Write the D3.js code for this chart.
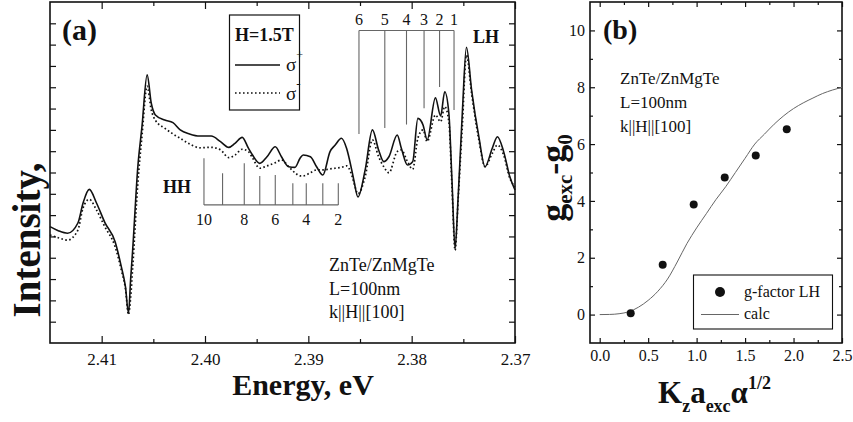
<!DOCTYPE html>
<html><head><meta charset="utf-8">
<script src="https://cdn.jsdelivr.net/npm/d3@7"></script>
<style>
body{margin:0;background:#fff}
svg{display:block}
text{font-family:"Liberation Serif","Times New Roman",serif;fill:#111}
</style>
</head><body>
<svg id="c" width="853" height="422"></svg>
<script>
// ---------- Panel (a) data ----------
const energy = [2.4150,2.4142,2.4133,2.4123,2.4118,2.4112,2.4105,2.4097,2.4087,2.4081,
2.4077,2.4074,2.4072,2.4070,2.4065,2.4061,2.4056,2.4052,2.4048,2.4039,
2.4031,2.4024,2.4015,2.4005,2.3994,2.3985,2.3977,2.3971,2.3964,2.3958,
2.3954,2.3947,2.3940,2.3932,2.3926,2.3919,2.3913,2.3908,2.3905,2.3898,
2.3892,2.3886,2.3879,2.3874,2.3868,2.3863,2.3858,2.3856,2.3852,2.3845,
2.3838,2.3832,2.3827,2.3822,2.3814,2.3810,2.3804,2.3799,2.3794,2.3789,
2.3785,2.3777,2.3772,2.3768,2.3764,2.3761,2.3758,2.3755,2.3751,2.3747,
2.3742,2.3735,2.3729,2.3722,2.3717,2.3711,2.3705,2.3700];
const sigmaPlus = [5.46,5.27,5.15,5.63,6.57,7.21,6.57,5.66,4.75,3.58,
2.64,1.39,2.96,4.36,8.27,10.15,12.58,11.25,10.70,10.46,
10.34,10.00,9.81,9.71,9.71,9.45,9.18,9.37,9.65,9.14,
8.82,8.43,8.74,9.21,8.74,8.27,8.24,8.67,8.82,8.74,
8.27,7.88,8.98,9.29,9.61,9.14,8.12,7.65,6.85,8.12,
10.00,9.06,8.51,8.74,9.76,9.14,8.35,8.51,10.54,10.23,
9.53,11.50,10.65,11.79,10.78,7.65,4.44,6.87,10.78,13.88,
11.87,9.68,8.27,9.14,9.68,8.98,7.80,7.18];
const sigmaMinus = [5.07,4.94,4.83,5.30,6.34,6.74,6.24,5.46,4.52,3.43,
2.55,1.33,2.11,3.52,7.50,9.70,12.05,10.93,10.45,10.08,
9.81,9.61,9.34,9.16,9.18,9.06,8.70,8.82,9.09,8.98,
8.68,8.20,8.31,8.46,8.59,8.27,7.99,7.84,7.84,7.99,
8.12,8.12,8.17,8.20,8.24,8.31,7.88,7.55,7.00,7.80,
9.53,8.74,8.27,7.99,8.98,9.06,8.51,8.15,9.61,10.00,
9.45,10.70,10.38,11.09,10.38,7.33,4.35,6.75,10.15,13.51,
11.72,9.53,8.27,8.90,9.29,8.82,7.73,7.33];
const energyTicks = [2.41,2.40,2.39,2.38,2.37];
const energyMinor = [2.405,2.395,2.385,2.375];
const intensityTicks = [1,2,3,4,5,6,7,8,9,10,11,12,13,14,15];

// LH exciton comb (numbers 6..1)
const lhLabels = ["6","5","4","3","2","1"];
const lhEnergy = [2.3851,2.3826,2.3805,2.3788,2.3773,2.3759];
const lhLineEnd = [9.81,10.09,10.25,11.01,12.01,10.93];
const lhTop = 14.66;
// HH exciton comb (numbers 10..2)
const hhNumbers = [10,9,8,7,6,5,4,3,2];
const hhEnergy = [2.4001,2.3983,2.3962,2.3947,2.3932,2.3915,2.3902,2.3886,2.3871];
const hhLineEnd = [8.67,7.96,8.43,7.84,7.88,7.49,7.49,7.49,7.49];
const hhBase = 6.48;
const hhShown = [10,8,6,4,2];

// ---------- Panel (b) data ----------
const kValues = [0.32,0.65,0.97,1.29,1.61,1.93];
const gFactorLH = [0.05,1.75,3.87,4.82,5.60,6.52];
const calcK = [0,0.1,0.2,0.3,0.4,0.5,0.6,0.7,0.8,0.9,1.0,1.1,1.2,1.3,1.4,1.5,1.6,1.7,1.8,1.9,2.0,2.1,2.2,2.3,2.4,2.5];
const calcG = [0,0.005,0.03,0.10,0.26,0.50,0.82,1.25,1.85,2.50,3.05,3.55,4.05,4.50,5.00,5.50,6.00,6.35,6.70,7.00,7.25,7.45,7.62,7.78,7.90,8.00];
const kTicks = [0,0.5,1.0,1.5,2.0,2.5];
const kMinor = [0.25,0.75,1.25,1.75,2.25];
const gTicks = [0,2,4,6,8,10];
const gMinor = [1,3,5,7,9];

const svg = d3.select("#c");

// ================= Panel (a) =================
const A = {l:50, r:515, t:2, b:343};
const xa = d3.scaleLinear().domain([2.415,2.370]).range([A.l,A.r]);
const ya = d3.scaleLinear().domain([0,16]).range([A.b,A.t]);

function styleAxis(g){ g.select(".domain").remove(); g.attr("font-family",null); g.selectAll(".tick line").attr("stroke","#111").attr("stroke-width",1.2); }

svg.append("g").attr("transform",`translate(0,${A.b})`)
  .call(d3.axisBottom(xa).tickValues(energyTicks).tickSize(-7).tickPadding(10).tickFormat(d3.format(".2f")))
  .call(styleAxis).call(g=>g.selectAll("text").attr("font-size",17).attr("fill","#111"));
svg.append("g").attr("transform",`translate(0,${A.b})`)
  .call(d3.axisBottom(xa).tickValues(energyMinor).tickSize(-4).tickFormat("")).call(styleAxis);
svg.append("g").attr("transform",`translate(0,${A.t})`)
  .call(d3.axisTop(xa).tickValues(energyTicks).tickSize(-7).tickFormat("")).call(styleAxis);
svg.append("g").attr("transform",`translate(0,${A.t})`)
  .call(d3.axisTop(xa).tickValues(energyMinor).tickSize(-4).tickFormat("")).call(styleAxis);
svg.append("g").attr("transform",`translate(${A.l},0)`)
  .call(d3.axisLeft(ya).tickValues(intensityTicks).tickSize(-6).tickFormat("")).call(styleAxis);
svg.append("g").attr("transform",`translate(${A.r},0)`)
  .call(d3.axisRight(ya).tickValues(intensityTicks).tickSize(-6).tickFormat("")).call(styleAxis);
svg.append("rect").attr("x",A.l).attr("y",A.t).attr("width",A.r-A.l).attr("height",A.b-A.t)
  .attr("fill","none").attr("stroke","#111").attr("stroke-width",1.6);

const lineA = d3.line().x(d=>xa(d[0])).y(d=>ya(d[1])).curve(d3.curveMonotoneX);
svg.append("path").datum(energy.map((e,i)=>[e,sigmaMinus[i]])).attr("d",lineA)
  .attr("fill","none").attr("stroke","#111").attr("stroke-width",1.7).attr("stroke-dasharray","1.6,2.4");
svg.append("path").datum(energy.map((e,i)=>[e,sigmaPlus[i]])).attr("d",lineA)
  .attr("fill","none").attr("stroke","#111").attr("stroke-width",1.6);

// LH comb
const comb = svg.append("g").attr("stroke","#666").attr("stroke-width",1.1);
comb.append("line").attr("x1",xa(lhEnergy[0])).attr("x2",xa(lhEnergy[lhEnergy.length-1]))
  .attr("y1",ya(lhTop)).attr("y2",ya(lhTop));
lhEnergy.forEach((e,i)=>comb.append("line").attr("x1",xa(e)).attr("x2",xa(e)).attr("y1",ya(lhTop)).attr("y2",ya(lhLineEnd[i])));
lhEnergy.forEach((e,i)=>svg.append("text").attr("x",xa(e)).attr("y",25).attr("text-anchor","middle").attr("font-size",16).text(lhLabels[i]));
svg.append("text").attr("x",473).attr("y",43).attr("font-size",18).attr("font-weight","bold").text("LH");
// HH comb
comb.append("line").attr("x1",xa(hhEnergy[0])).attr("x2",xa(hhEnergy[hhEnergy.length-1]))
  .attr("y1",ya(hhBase)).attr("y2",ya(hhBase));
hhEnergy.forEach((e,i)=>comb.append("line").attr("x1",xa(e)).attr("x2",xa(e)).attr("y1",ya(hhBase)).attr("y2",ya(hhLineEnd[i])));
hhEnergy.forEach((e,i)=>{ if(hhShown.includes(hhNumbers[i])) svg.append("text").attr("x",xa(e)).attr("y",225).attr("text-anchor","middle").attr("font-size",16).text(hhNumbers[i]); });
svg.append("text").attr("x",163).attr("y",193).attr("font-size",18).attr("font-weight","bold").text("HH");

// Legend (a)
svg.append("rect").attr("x",229.5).attr("y",15).attr("width",70).attr("height",95)
  .attr("fill","#fff").attr("stroke","#111").attr("stroke-width",1.2);
svg.append("text").attr("x",235).attr("y",41).attr("font-size",18).attr("font-weight","bold").text("H=1.5T");
svg.append("line").attr("x1",235).attr("x2",280).attr("y1",65).attr("y2",65).attr("stroke","#111").attr("stroke-width",1.6);
svg.append("line").attr("x1",235).attr("x2",280).attr("y1",93).attr("y2",93).attr("stroke","#111").attr("stroke-width",1.7).attr("stroke-dasharray","1.6,2.4");
const sp = svg.append("text").attr("x",286).attr("y",71).attr("font-size",19);
sp.append("tspan").text("σ"); sp.append("tspan").attr("font-size",12).attr("dy",-12).text("+");
const sm = svg.append("text").attr("x",286).attr("y",100).attr("font-size",19);
sm.append("tspan").text("σ"); sm.append("tspan").attr("font-size",13).attr("dy",-12).text("-");

// Sample text (a)
["ZnTe/ZnMgTe","L=100nm","k||H||[100]"].forEach((t,i)=>
  svg.append("text").attr("x",329).attr("y",271+i*23.5).attr("font-size",18).text(t));
svg.append("text").attr("x",62).attr("y",40).attr("font-size",30).attr("font-weight","bold").text("(a)");

// Titles (a)
svg.append("text").attr("x",303).attr("y",395).attr("text-anchor","middle").attr("font-size",30).attr("font-weight","bold").text("Energy, eV");
svg.append("text").attr("transform","translate(40,240) rotate(-90)").attr("text-anchor","middle")
  .attr("font-size",39).attr("font-weight","bold").text("Intensity,");

// ================= Panel (b) =================
const B = {l:590, r:842, t:2, b:343};
const xb = d3.scaleLinear().domain([-0.1,2.5]).range([B.l,B.r]);
const yb = d3.scaleLinear().domain([-1,11]).range([B.b,B.t]);

svg.append("g").attr("transform",`translate(0,${B.b})`)
  .call(d3.axisBottom(xb).tickValues(kTicks).tickSize(-5).tickPadding(7).tickFormat(d3.format(".1f")))
  .call(styleAxis).call(g=>g.selectAll("text").attr("font-size",16).attr("fill","#222"));
svg.append("g").attr("transform",`translate(0,${B.b})`)
  .call(d3.axisBottom(xb).tickValues(kMinor).tickSize(-3).tickFormat("")).call(styleAxis);
svg.append("g").attr("transform",`translate(0,${B.t})`)
  .call(d3.axisTop(xb).tickValues(kTicks).tickSize(-5).tickFormat("")).call(styleAxis);
svg.append("g").attr("transform",`translate(0,${B.t})`)
  .call(d3.axisTop(xb).tickValues(kMinor).tickSize(-3).tickFormat("")).call(styleAxis);
svg.append("g").attr("transform",`translate(${B.l},0)`)
  .call(d3.axisLeft(yb).tickValues(gTicks).tickSize(-5).tickPadding(5).tickFormat(d3.format("d")))
  .call(styleAxis).call(g=>g.selectAll("text").attr("font-size",16).attr("fill","#222"));
svg.append("g").attr("transform",`translate(${B.l},0)`)
  .call(d3.axisLeft(yb).tickValues(gMinor).tickSize(-3).tickFormat("")).call(styleAxis);
svg.append("g").attr("transform",`translate(${B.r},0)`)
  .call(d3.axisRight(yb).tickValues(gTicks).tickSize(-5).tickFormat("")).call(styleAxis);
svg.append("g").attr("transform",`translate(${B.r},0)`)
  .call(d3.axisRight(yb).tickValues(gMinor).tickSize(-3).tickFormat("")).call(styleAxis);
svg.append("rect").attr("x",B.l).attr("y",B.t).attr("width",B.r-B.l).attr("height",B.b-B.t)
  .attr("fill","none").attr("stroke","#111").attr("stroke-width",1.6);

const lineB = d3.line().x(d=>xb(d[0])).y(d=>yb(d[1])).curve(d3.curveMonotoneX);
svg.append("path").datum(calcK.map((k,i)=>[k,calcG[i]])).attr("d",lineB)
  .attr("fill","none").attr("stroke","#666").attr("stroke-width",1);
svg.selectAll("circle.pt").data(kValues.map((k,i)=>[k,gFactorLH[i]])).join("circle")
  .attr("class","pt").attr("cx",d=>xb(d[0])).attr("cy",d=>yb(d[1])).attr("r",4).attr("fill","#111");

// Legend (b)
svg.append("rect").attr("x",693.5).attr("y",275).attr("width",139).attr("height",54)
  .attr("fill","#fff").attr("stroke","#111").attr("stroke-width",1.1);
svg.append("circle").attr("cx",720).attr("cy",292).attr("r",5).attr("fill","#111");
svg.append("text").attr("x",744).attr("y",297).attr("font-size",16).text("g-factor LH");
svg.append("line").attr("x1",701).attr("x2",739).attr("y1",314.5).attr("y2",314.5).attr("stroke","#666").attr("stroke-width",1);
svg.append("text").attr("x",744).attr("y",319).attr("font-size",16).text("calc");

["ZnTe/ZnMgTe","L=100nm","k||H||[100]"].forEach((t,i)=>
  svg.append("text").attr("x",620).attr("y",84+i*24).attr("font-size",17).text(t));
svg.append("text").attr("x",603).attr("y",39).attr("font-size",28).attr("font-weight","bold").text("(b)");

// Titles (b)
const xt = svg.append("text").attr("x",658).attr("y",403).attr("font-size",31).attr("font-weight","bold");
xt.append("tspan").text("K");
xt.append("tspan").attr("font-size",18).attr("dy",9).text("z");
xt.append("tspan").attr("font-size",31).attr("dy",-9).text("a");
xt.append("tspan").attr("font-size",18).attr("dy",9).text("exc");
xt.append("tspan").attr("font-size",31).attr("dy",-9).text("α");
xt.append("tspan").attr("font-size",18).attr("dy",-14).text("1/2");

const yt = svg.append("text").attr("transform","translate(565,178) rotate(-90)").attr("text-anchor","middle")
  .attr("font-size",36).attr("font-weight","bold");
yt.append("tspan").text("g");
yt.append("tspan").attr("font-size",21).attr("dy",7).text("exc");
yt.append("tspan").attr("font-size",36).attr("dy",-7).text("-g");
yt.append("tspan").attr("font-size",21).attr("dy",7).text("0");
</script>
</body></html>
